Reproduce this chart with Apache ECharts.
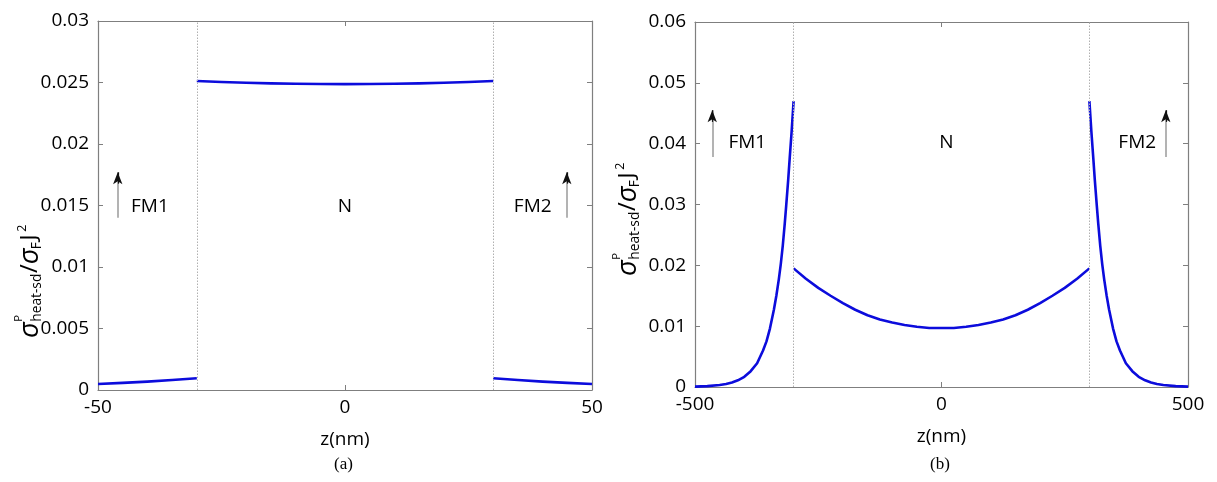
<!DOCTYPE html>
<html><head><meta charset="utf-8">
<script src="https://cdn.jsdelivr.net/npm/echarts@6/dist/echarts.min.js"></script>
<style>html,body{margin:0;padding:0;background:#fff}#c{width:1217px;height:482px}</style>
</head><body><div id="c"></div>
<script>
// ---- Panel (a) data ----
const zA1 = [-50, -45, -40, -35, -30];
const vA1 = [0.00049, 0.00058, 0.00068, 0.00081, 0.00096];
const zA2 = [-30, -25, -20, -15, -10, -5, 0, 5, 10, 15, 20, 25, 30];
const vA2 = [0.02512, 0.02504, 0.02498, 0.02493, 0.02490, 0.02488, 0.02487, 0.02488, 0.02490, 0.02493, 0.02498, 0.02504, 0.02512];
const zA3 = [30, 35, 40, 45, 50];
const vA3 = [0.00096, 0.00081, 0.00068, 0.00058, 0.00049];
// ---- Panel (b) data ----
const zB1 = [-500, -475, -450, -437, -425, -413, -400, -387, -374, -362, -355, -348, -340, -335, -330, -326, -322, -318, -315, -311, -308, -304, -300];
const vB1 = [0.00006, 0.00014, 0.00032, 0.00049, 0.00073, 0.00110, 0.00167, 0.0026, 0.0039, 0.0060, 0.0075, 0.0096, 0.0127, 0.0150, 0.0177, 0.0202, 0.0232, 0.0268, 0.0298, 0.0340, 0.0375, 0.0420, 0.0470];
const zB2 = [-300, -275, -250, -225, -200, -175, -150, -125, -100, -75, -50, -25, 0, 25, 50, 75, 100, 125, 150, 175, 200, 225, 250, 275, 300];
const vB2 = [0.0195, 0.0178, 0.0163, 0.0150, 0.0138, 0.0127, 0.0118, 0.0111, 0.0106, 0.0102, 0.0099, 0.0097, 0.0097, 0.0097, 0.0099, 0.0102, 0.0106, 0.0111, 0.0118, 0.0127, 0.0138, 0.0150, 0.0163, 0.0178, 0.0195];
const zB3 = [300, 304, 308, 311, 315, 318, 322, 326, 330, 335, 340, 348, 355, 362, 374, 387, 400, 413, 425, 437, 450, 475, 500];
const vB3 = [0.0470, 0.0420, 0.0375, 0.0340, 0.0298, 0.0268, 0.0232, 0.0202, 0.0177, 0.0150, 0.0127, 0.0096, 0.0075, 0.0060, 0.0039, 0.0026, 0.00167, 0.00110, 0.00073, 0.00049, 0.00032, 0.00014, 0.00006];
// ---- axes / ticks ----
const xTicksA = {min: -50, max: 50, interval: 50};
const yTicksA = {min: 0, max: 0.03, interval: 0.005};
const xTicksB = {min: -500, max: 500, interval: 500};
const yTicksB = {min: 0, max: 0.06, interval: 0.01};
const interfacesA = [-30, 30];
const interfacesB = [-300, 300];
// annotations (data coords): [z, yBottom, yTop]
const arrowsA = [[-46, 0.0140, 0.0177], [44.9, 0.0140, 0.0177]];
const arrowsB = [[-465, 0.0378, 0.0455], [455, 0.0378, 0.0455]];
const labelsA = [['FM1', -39.5, 0.0149], ['N', 0, 0.0149], ['FM2', 38, 0.0149]];
const labelsB = [['FM1', -394, 0.0401], ['N', 10, 0.0401], ['FM2', 397, 0.0401]];

const FONT = 'Open Sans';
const FS = 19;
const pair = (zs, vs) => zs.map((z, i) => [z, vs[i]]);
const axisGray = '#7f7f7f';

function xAxes(grid, t) {
  return [
    {type: 'value', gridIndex: grid, position: 'bottom', min: t.min, max: t.max, interval: t.interval,
     name: 'z(nm)', nameLocation: 'middle', nameGap: 40,
     nameTextStyle: {fontFamily: FONT, fontSize: FS, color: '#000'},
     axisLine: {show: true, onZero: false, lineStyle: {color: axisGray, width: 1.2}},
     axisTick: {show: true, inside: true, length: 5, lineStyle: {color: axisGray}},
     axisLabel: {fontFamily: FONT, fontSize: FS, color: '#000', margin: 8},
     splitLine: {show: false}},
    {type: 'value', gridIndex: grid, position: 'top', min: t.min, max: t.max, interval: t.interval,
     axisLine: {show: true, onZero: false, lineStyle: {color: axisGray, width: 1.2}},
     axisTick: {show: true, inside: true, length: 5, lineStyle: {color: axisGray}},
     axisLabel: {show: false}, splitLine: {show: false}}
  ];
}
function yAxes(grid, t) {
  return [
    {type: 'value', gridIndex: grid, position: 'left', min: t.min, max: t.max, interval: t.interval,
     axisLine: {show: true, onZero: false, lineStyle: {color: axisGray, width: 1.2}},
     axisTick: {show: true, inside: true, length: 5, lineStyle: {color: axisGray}},
     axisLabel: {fontFamily: FONT, fontSize: FS, color: '#000', margin: 9, formatter: v => String(+v.toFixed(4))},
     splitLine: {show: false}},
    {type: 'value', gridIndex: grid, position: 'right', min: t.min, max: t.max, interval: t.interval,
     axisLine: {show: true, onZero: false, lineStyle: {color: axisGray, width: 1.2}},
     axisTick: {show: true, inside: true, length: 5, lineStyle: {color: axisGray}},
     axisLabel: {show: false}, splitLine: {show: false}}
  ];
}
function curve(xi, yi, data, extra) {
  return Object.assign({type: 'line', xAxisIndex: xi, yAxisIndex: yi, data: data, showSymbol: false,
    smooth: false, lineStyle: {color: '#0c0cdc', width: 2.6, join: 'round'}, silent: true, z: 3}, extra || {});
}
function marks(interfaces, arrows, labels, yMax) {
  const lines = [];
  interfaces.forEach(z => lines.push([{coord: [z, 0], symbol: 'none'}, {coord: [z, yMax], symbol: 'none',
    lineStyle: {color: '#b0b0b0', type: [1.5, 1.5], width: 1}}]));
  arrows.forEach(a => {
    lines.push([{coord: [a[0], a[1]], symbol: 'none'}, {coord: [a[0], a[2]], symbol: 'none',
      lineStyle: {color: '#a0a0a0', type: 'solid', width: 1.6}}]);
    lines.push([{coord: [a[0], a[2] - (a[2] - a[1]) * 0.25], symbol: 'none'}, {coord: [a[0], a[2]], symbol: 'arrow', symbolSize: [7, 12],
      lineStyle: {color: '#111', type: 'solid', width: 1.2}}]);
  });
  return {
    markLine: {silent: true, animation: false, symbol: 'none', label: {show: false}, data: lines},
    markPoint: {silent: true, animation: false, symbol: 'circle', symbolSize: 1,
      itemStyle: {color: 'rgba(0,0,0,0)'},
      label: {show: true, position: 'inside', color: '#000', fontFamily: FONT, fontSize: FS},
      data: labels.map(l => ({coord: [l[1], l[2]], value: l[0], label: {formatter: l[0]}}))}
  };
}
function yLabel(x, y) {
  const base = {fontFamily: FONT, fill: '#000'};
  const t = (tx, ty, text, size, extra) => ({type: 'text', x: tx, y: ty,
    style: Object.assign({}, base, {text: text, fontSize: size, textVerticalAlign: 'middle'}, extra || {})});
  return {type: 'group', x: x, y: y, rotation: Math.PI / 2, scaleX: 1.25, scaleY: 1.25, silent: true, children: [
    t(0, 0, 'σ', 22, {fontStyle: 'italic'}),
    t(13, -9, 'P', 9),
    t(13, 6, 'heat-sd', 11),
    t(52, 0, '/', 19),
    t(59, 0, 'σ', 22, {fontStyle: 'italic'}),
    t(71, 6, 'F', 11),
    t(78, 0, 'J', 18),
    t(85, -6, '2', 10)
  ]};
}

const chart = echarts.init(document.getElementById('c'), null, {renderer: 'canvas'});
chart.setOption({
  animation: false,
  backgroundColor: '#fff',
  grid: [
    {left: 98, right: 625, top: 21, bottom: 92},
    {left: 695, right: 29, top: 22, bottom: 95}
  ],
  xAxis: [...xAxes(0, xTicksA), ...xAxes(1, xTicksB)],
  yAxis: [...yAxes(0, yTicksA), ...yAxes(1, yTicksB)],
  series: [
    curve(0, 0, pair(zA1, vA1), marks(interfacesA, arrowsA, labelsA, yTicksA.max)),
    curve(0, 0, pair(zA2, vA2)),
    curve(0, 0, pair(zA3, vA3)),
    curve(2, 2, pair(zB1, vB1), marks(interfacesB, arrowsB, labelsB, yTicksB.max)),
    curve(2, 2, pair(zB2, vB2)),
    curve(2, 2, pair(zB3, vB3))
  ],
  graphic: [
    yLabel(30, 338),
    yLabel(628, 276),
    {type: 'text', left: 334, top: 456, style: {text: '(a)', fontFamily: 'Liberation Serif', fontSize: 17, fill: '#000'}},
    {type: 'text', left: 930, top: 456, style: {text: '(b)', fontFamily: 'Liberation Serif', fontSize: 17, fill: '#000'}}
  ]
});
</script></body></html>
